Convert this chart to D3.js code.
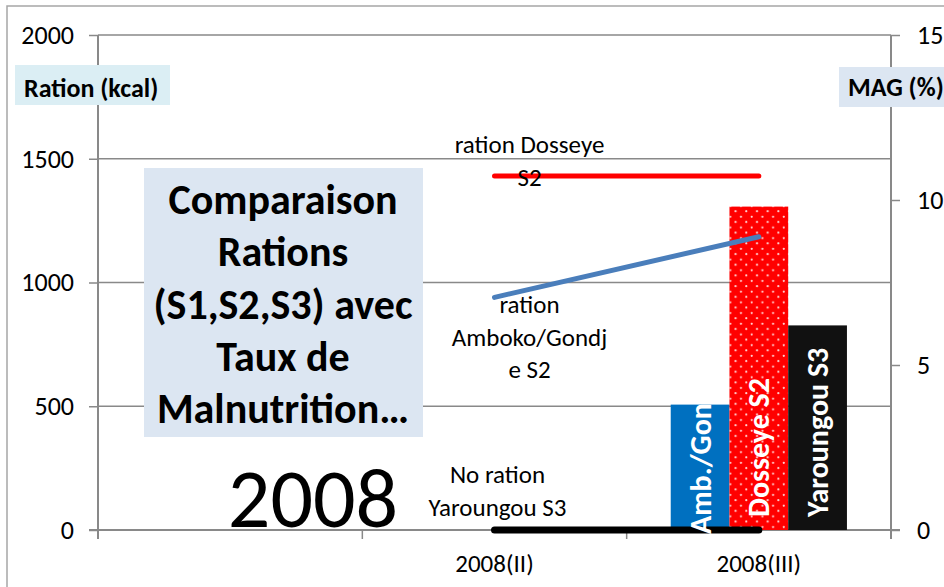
<!DOCTYPE html>
<html>
<head>
<meta charset="utf-8">
<script src="https://cdn.jsdelivr.net/npm/d3@7"></script>
<style>
  body { margin: 0; background: #fff; }
  svg { display: block; font-family: Carlito, Lato, "Open Sans", sans-serif; }
</style>
</head>
<body>
<svg id="chart" width="944" height="587"></svg>
<script>
// categories on the x axis (first one has no label)
const categories = ["", "2008(II)", "2008(III)"];

// ration lines (left axis, kcal), one value per labelled category
const lineCats = ["2008(II)", "2008(III)"];
const rationDosseye = [1430, 1430];
const rationAmboko = [940, 1185];
const rationYaroungou = [0, 0];

// malnutrition bars (right axis, MAG %), all in 2008(III)
const barCat = "2008(III)";
const barNames = ["Amb./Gondje S2", "Dosseye S2", "Yaroungou S3"];
const barValues = [3.8, 9.8, 6.2];

const leftTicks = [0, 500, 1000, 1500, 2000];
const rightTicks = [0, 5, 10, 15];

const svg = d3.select("#chart");
const plotL = 98, plotR = 891, plotT = 35, plotB = 530;
const grey = "#898989";

// outer frame of the chart area
svg.append("path")
    .attr("d", "M7,587 V6 H944")
    .attr("fill", "none").attr("stroke", "#a6a6a6").attr("stroke-width", 1.5);

const x = d3.scaleBand().domain(categories).range([plotL, plotR]);
const yL = d3.scaleLinear().domain([0, 2000]).range([plotB, plotT]);
const yR = d3.scaleLinear().domain([0, 15]).range([plotB, plotT]);
const xSub = d3.scaleBand().domain(barNames).range([0, x.bandwidth()]).paddingOuter(0.75);

// gridlines
svg.append("g").selectAll("line")
  .data(leftTicks.slice(1))
  .join("line")
    .attr("x1", plotL).attr("x2", plotR)
    .attr("y1", d => yL(d)).attr("y2", d => yL(d))
    .attr("stroke", grey).attr("stroke-width", 1.5);

// axes
const gL = svg.append("g").attr("transform", `translate(${plotL},0)`)
    .call(d3.axisLeft(yL).tickValues(leftTicks).tickFormat(d => d)
      .tickSize(9).tickSizeOuter(0).tickPadding(15));
const gR = svg.append("g").attr("transform", `translate(${plotR},0)`)
    .call(d3.axisRight(yR).tickValues(rightTicks).tickFormat(d => d)
      .tickSize(9).tickSizeOuter(0).tickPadding(17));
const gB = svg.append("g").attr("transform", `translate(0,${plotB})`)
    .call(d3.axisBottom(x).tickSize(0).tickPadding(24));

// category boundary ticks
const bounds = categories.map(c => x(c)).concat([plotR]);
svg.append("g").selectAll("line")
  .data(bounds)
  .join("line")
    .attr("x1", d => d).attr("x2", d => d)
    .attr("y1", plotB).attr("y2", plotB + 9)
    .attr("stroke", grey).attr("stroke-width", 1.5);

[gL, gR, gB].forEach(g => {
  g.selectAll("path.domain").attr("stroke", grey).attr("stroke-width", 2);
  g.selectAll(".tick line").attr("stroke", grey).attr("stroke-width", 1.5);
  g.selectAll(".tick text").attr("fill", "#000").attr("font-size", 26)
    .attr("font-family", "Carlito, Lato, sans-serif");
});
gB.selectAll(".tick text").attr("font-size", 25);
gL.select("path.domain").attr("d", `M0,${plotT}V${plotB + 9}`);
gR.select("path.domain").attr("d", `M0,${plotT}V${plotB + 9}`);
gB.select("path.domain").attr("d", `M${plotL - 9},0H${plotR + 9}`);

// axis title boxes
svg.append("rect").attr("x", 15).attr("y", 65).attr("width", 155).attr("height", 40).attr("fill", "#dbeef4");
svg.append("text").attr("x", 24).attr("y", 97)
    .attr("font-size", 26).attr("font-weight", "bold").text("Ration (kcal)");
svg.append("rect").attr("x", 839).attr("y", 67).attr("width", 110).attr("height", 40).attr("fill", "#dce6f2");
svg.append("text").attr("x", 848).attr("y", 96)
    .attr("font-size", 26).attr("font-weight", "bold").text("MAG (%)");

// red dotted pattern
const defs = svg.append("defs");
const pat = defs.append("pattern").attr("id", "dots").attr("patternUnits", "userSpaceOnUse")
    .attr("width", 10.7).attr("height", 10.7);
pat.append("rect").attr("width", 10.7).attr("height", 10.7).attr("fill", "#ff0000");
pat.append("circle").attr("cx", 2.7).attr("cy", 2.7).attr("r", 1.1).attr("fill", "#ffd6d6");
pat.append("circle").attr("cx", 8).attr("cy", 8).attr("r", 1.1).attr("fill", "#ffd6d6");

const barFill = ["#0070c0", "url(#dots)", "#111111"];

// bars
svg.append("g").selectAll("rect")
  .data(barValues)
  .join("rect")
    .attr("x", (d, i) => x(barCat) + xSub(barNames[i]))
    .attr("width", xSub.bandwidth())
    .attr("y", d => yR(d))
    .attr("height", d => yR(0) - yR(d))
    .attr("fill", (d, i) => barFill[i]);

// ration lines
const line = d3.line().x((d, i) => x(lineCats[i]) + x.bandwidth() / 2).y(d => yL(d));
const series = [
  { v: rationDosseye, c: "#ff0000", w: 5 },
  { v: rationAmboko, c: "#4a7ebb", w: 5 },
  { v: rationYaroungou, c: "#000000", w: 7 }
];
svg.append("g").selectAll("path")
  .data(series)
  .join("path")
    .attr("d", d => line(d.v))
    .attr("fill", "none")
    .attr("stroke", d => d.c)
    .attr("stroke-width", d => d.w)
    .attr("stroke-linecap", "round");

// line data labels
const px = x(lineCats[0]) + x.bandwidth() / 2;
const lineLabels = [
  { lines: ["ration Dosseye", "S2"], x: px + 35, y: 153 },
  { lines: ["ration", "Amboko/Gondj", "e S2"], x: px + 35, y: 313 },
  { lines: ["No ration", "Yaroungou S3"], x: px + 3, y: 483 }
];
lineLabels.forEach(l => {
  const t = svg.append("text").attr("text-anchor", "middle").attr("font-size", 25);
  l.lines.forEach((s, i) => t.append("tspan").attr("x", l.x).attr("y", l.y + i * 32.5).text(s));
});

// bar labels, rotated, white bold
barValues.forEach((d, i) => {
  const cx = x(barCat) + xSub(barNames[i]) + xSub.bandwidth() / 2;
  const t = svg.append("text")
      .attr("font-size", 30).attr("font-weight", "bold").attr("fill", "#fff")
      .attr("dominant-baseline", "central")
      .text(barNames[i]);
  const len = t.node().getComputedTextLength();
  const h = yR(0) - yR(d);
  // inside base; when the label is longer than the bar it starts at the base
  const yStart = len > h - 13 ? plotB + 4 : plotB - 13;
  t.attr("transform", `translate(${cx},${yStart}) rotate(-90)`);
});

// title box
svg.append("rect").attr("x", 144).attr("y", 168).attr("width", 279).attr("height", 269).attr("fill", "#dce6f2");
const titleLines = ["Comparaison", "Rations", "(S1,S2,S3) avec", "Taux de", "Malnutrition…"];
const tt = svg.append("text").attr("text-anchor", "middle").attr("font-size", 42).attr("font-weight", "bold");
titleLines.forEach((s, i) => tt.append("tspan").attr("x", 283).attr("y", 214 + i * 52.3).text(s));

// big year
svg.append("text").attr("x", 313).attr("y", 527).attr("text-anchor", "middle")
    .attr("font-size", 84).text("2008");
</script>
</body>
</html>
